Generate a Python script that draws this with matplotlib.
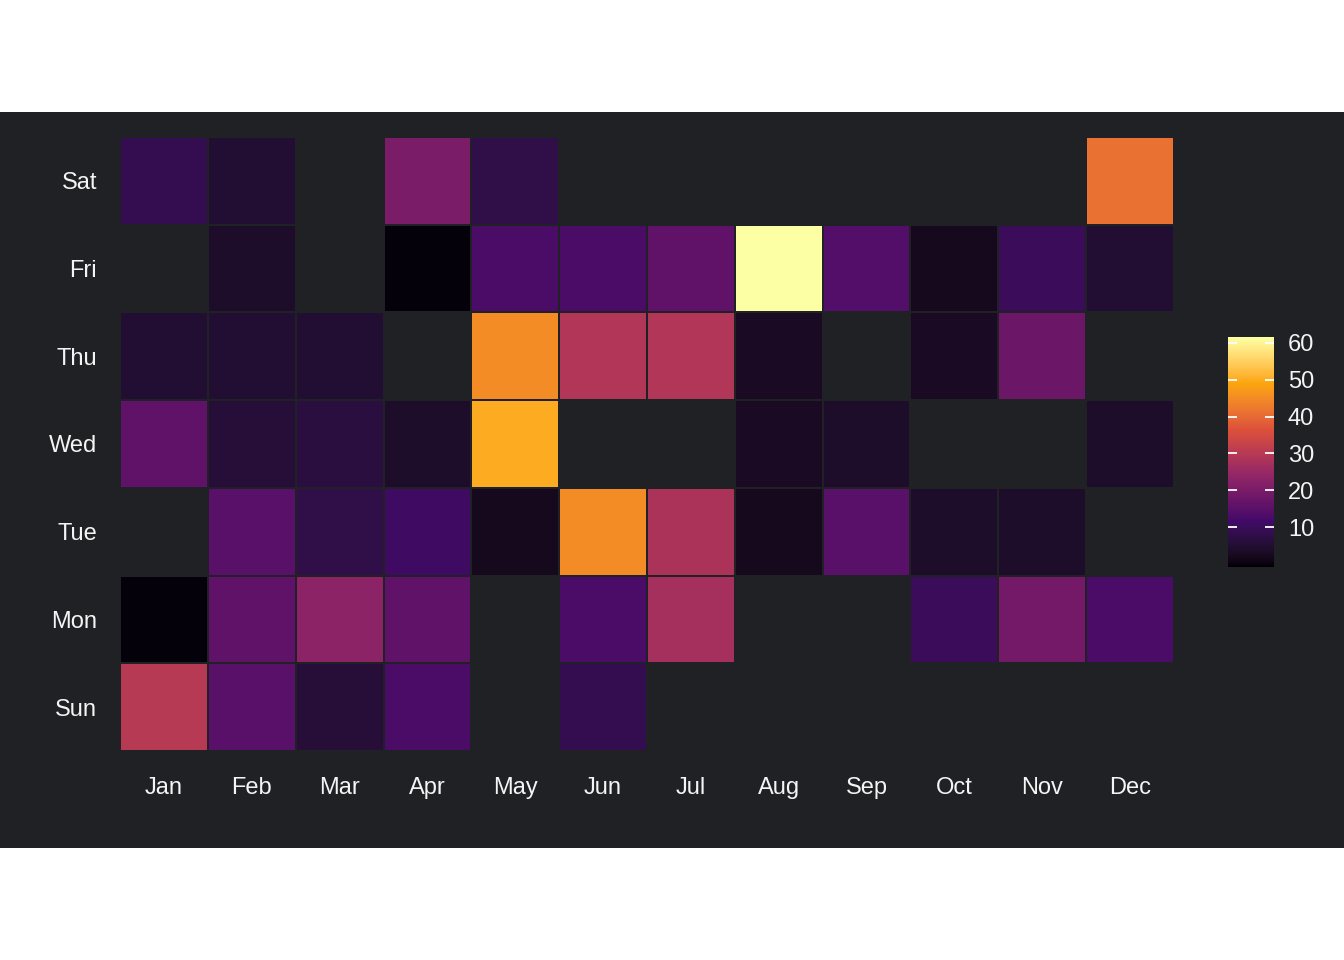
import numpy as np
import matplotlib
matplotlib.use("Agg")
import matplotlib.pyplot as plt
from matplotlib.colors import ListedColormap, Normalize
from matplotlib.patches import Rectangle

plt.rcParams['font.family'] = ['Liberation Sans', 'DejaVu Sans']

# ---- data ----
months = ["Jan", "Feb", "Mar", "Apr", "May", "Jun", "Jul", "Aug", "Sep", "Oct", "Nov", "Dec"]
days = ["Sun", "Mon", "Tue", "Wed", "Thu", "Fri", "Sat"]   # bottom -> top
nan = np.nan
sun = [30, 15, 6, 13, nan, 9, nan, nan, nan, nan, nan, nan]
mon = [0, 16, 23, 16, nan, 13, 27, nan, nan, 10, 19, 13]
tue = [nan, 15, 8, 11, 2, 45, 28, 2, 15, 4, 4, nan]
wed = [16, 6, 7, 4, 50, nan, nan, 3, 4, nan, nan, 4]
thu = [5, 5, 5, nan, 45, 29, 29, 3, nan, 3, 18, nan]
fri = [nan, 4, nan, 0, 13, 13, 16, 61.5, 14, 2, 10, 5]
sat = [9, 5, nan, 20, 8, nan, nan, nan, nan, nan, nan, 41]
cbar_ticks = [10, 20, 30, 40, 50, 60]
color_limits = (-0.7, 61.5)

BG = "#1f2125"
TXT = "#f4f4f4"


# ---- inferno ramp interpolated in CIELAB (like ggplot's gradientn) ----
def srgb_to_lab(rgb):
    rgb = np.asarray(rgb, float)
    lin = np.where(rgb <= 0.04045, rgb / 12.92, ((rgb + 0.055) / 1.055) ** 2.4)
    M = np.array([[0.4124564, 0.3575761, 0.1804375],
                  [0.2126729, 0.7151522, 0.0721750],
                  [0.0193339, 0.1191920, 0.9503041]])
    xyz = lin @ M.T / np.array([0.95047, 1.0, 1.08883])
    eps, kap = 216 / 24389, 24389 / 27
    f = np.where(xyz > eps, np.cbrt(xyz), (kap * xyz + 16) / 116)
    L = 116 * f[:, 1] - 16
    a = 500 * (f[:, 0] - f[:, 1])
    b = 200 * (f[:, 1] - f[:, 2])
    return np.stack([L, a, b], axis=1)


def lab_to_srgb(lab):
    L, a, b = lab[:, 0], lab[:, 1], lab[:, 2]
    fy = (L + 16) / 116
    fx = fy + a / 500
    fz = fy - b / 200
    eps, kap = 216 / 24389, 24389 / 27
    f = np.stack([fx, fy, fz], axis=1)
    xyz = np.where(f ** 3 > eps, f ** 3, (116 * f - 16) / kap)
    xyz = xyz * np.array([0.95047, 1.0, 1.08883])
    Minv = np.array([[3.2404542, -1.5371385, -0.4985314],
                     [-0.9692660, 1.8760108, 0.0415560],
                     [0.0556434, -0.2040259, 1.0572252]])
    lin = np.clip(xyz @ Minv.T, 0, 1)
    srgb = np.where(lin <= 0.0031308, 12.92 * lin, 1.055 * lin ** (1 / 2.4) - 0.055)
    return np.clip(srgb, 0, 1)


stops = ["#000004", "#420A68", "#932667", "#DD513A", "#FCA50A", "#FCFFA4"]
stop_rgb = np.array([matplotlib.colors.to_rgb(c) for c in stops])
stop_lab = srgb_to_lab(stop_rgb)
pos = np.linspace(0, 1, len(stops))
tt = np.linspace(0, 1, 256)
lab = np.stack([np.interp(tt, pos, stop_lab[:, k]) for k in range(3)], axis=1)
cmap = ListedColormap(lab_to_srgb(lab))

# ---- figure ----
fig = plt.figure(figsize=(13.44, 9.6), dpi=100, facecolor="white")
fig.patches.append(Rectangle((0, 112 / 960), 1, 736 / 960, transform=fig.transFigure,
                             facecolor=BG, edgecolor="none", zorder=-10))

ax = fig.add_axes([120 / 1344, 209 / 960, 1054 / 1344, 614 / 960])
ax.set_facecolor("none")

Z = np.ma.masked_invalid(np.array([sun, mon, tue, wed, thu, fri, sat], dtype=float))
norm = Normalize(vmin=color_limits[0], vmax=color_limits[1])
mesh = ax.pcolormesh(np.arange(len(months) + 1) - 0.5, np.arange(len(days) + 1) - 0.5, Z,
                     cmap=cmap, norm=norm, edgecolors=BG, linewidth=1.4)
ax.set_xlim(-0.5, len(months) - 0.5)
ax.set_ylim(-0.5, len(days) - 0.5)

ax.set_xticks(range(len(months)))
ax.set_xticklabels(months)
ax.set_yticks(range(len(days)))
ax.set_yticklabels(days)
ax.tick_params(axis="x", length=0, pad=18.5, labelsize=17, labelcolor=TXT)
ax.tick_params(axis="y", length=0, pad=16.5, labelsize=17, labelcolor=TXT)
for s in ax.spines.values():
    s.set_visible(False)

# ---- colour bar ----
cax = fig.add_axes([1228 / 1344, 393 / 960, 46 / 1344, 230 / 960])
cb = fig.colorbar(mesh, cax=cax)
cb.outline.set_visible(False)
cb.set_ticks(cbar_ticks)
cax.tick_params(length=0, pad=10, labelsize=17, labelcolor=TXT)
cax.hlines(cbar_ticks, 0, 0.2, transform=cax.get_yaxis_transform(), colors="white", linewidth=1.3)
cax.hlines(cbar_ticks, 0.8, 1, transform=cax.get_yaxis_transform(), colors="white", linewidth=1.3)

fig.savefig("out.png", dpi=100, facecolor="white")
